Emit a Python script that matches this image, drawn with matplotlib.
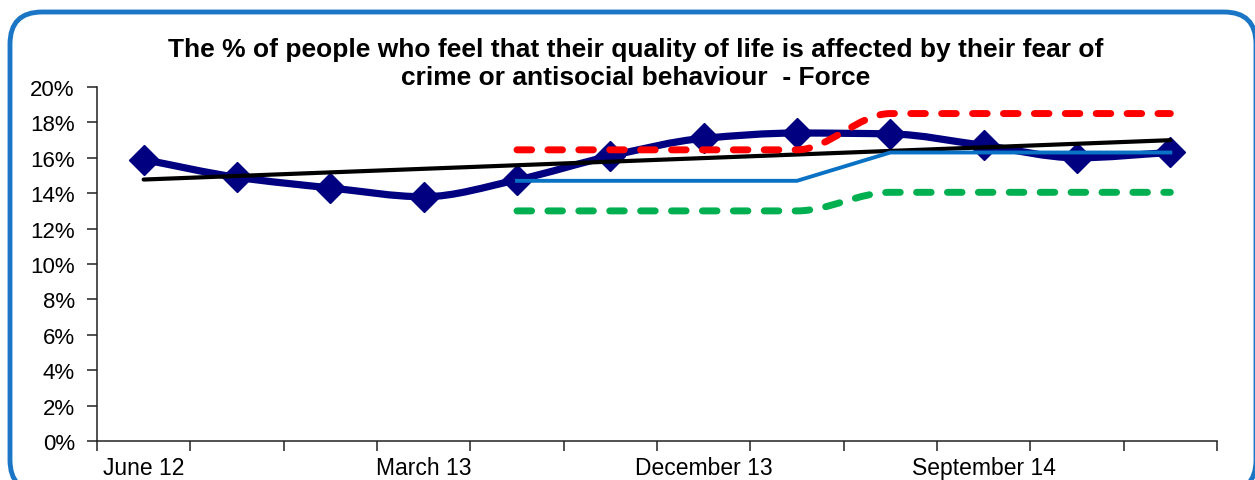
import numpy as np
import matplotlib
matplotlib.use("Agg")
import matplotlib.pyplot as plt
from matplotlib.path import Path
from matplotlib.patches import PathPatch, FancyBboxPatch
from matplotlib.transforms import IdentityTransform
from matplotlib.ticker import FixedLocator, FuncFormatter

plt.rcParams['font.family'] = ['Liberation Sans', 'DejaVu Sans']

# quarterly survey results (%)
quarters = ['June 12', 'September 12', 'December 12', 'March 13', 'June 13', 'September 13',
            'December 13', 'March 14', 'June 14', 'September 14', 'December 14', 'March 15']
force = [15.9, 14.9, 14.3, 13.8, 14.75, 16.1, 17.1, 17.4, 17.35, 16.7, 16.0, 16.3]

# comparison lines start at June 13
band_start = 4
peer_avg = [14.7, 14.7, 14.7, 14.7, 16.3, 16.3, 16.3, 16.3]
upper_lim = [16.45, 16.45, 16.45, 16.45, 18.5, 18.5, 18.5, 18.5]
lower_lim = [13.0, 13.0, 13.0, 13.0, 14.05, 14.05, 14.05, 14.05]

shown_labels = ['June 12', 'March 13', 'December 13', 'September 14']

title = ("The % of people who feel that their quality of life is affected by their fear of\n"
         "crime or antisocial behaviour  - Force")


def smooth_path(xs, ys):
    # monotone cubic (Fritsch-Carlson) through the points, as bezier segments
    x = np.asarray(xs, float)
    y = np.asarray(ys, float)
    h = np.diff(x)
    s = np.diff(y) / h
    d = np.zeros_like(y)
    d[0], d[-1] = s[0], s[-1]
    for i in range(1, len(y) - 1):
        if s[i - 1] * s[i] > 0:
            d[i] = 2.0 / (1.0 / s[i - 1] + 1.0 / s[i])
    verts = [(x[0], y[0])]
    codes = [Path.MOVETO]
    for i in range(len(x) - 1):
        verts += [(x[i] + h[i] / 3, y[i] + d[i] * h[i] / 3),
                  (x[i + 1] - h[i] / 3, y[i + 1] - d[i + 1] * h[i] / 3),
                  (x[i + 1], y[i + 1])]
        codes += [Path.CURVE4] * 3
    return Path(verts, codes)


fig = plt.figure(figsize=(12.55, 4.81), dpi=100)
ax = fig.add_axes([97 / 1255, 39 / 481, 1120 / 1255, 354 / 481])

x_all = np.arange(len(quarters)) + 0.5
x_band = x_all[band_start:]

# main series, smoothed
ax.add_patch(PathPatch(smooth_path(x_all, force), fill=False, edgecolor='#000080',
                       linewidth=5.2, capstyle='round', joinstyle='round', zorder=2))
ax.plot(x_all, force, linestyle='none', marker='D', markersize=15,
        color='#000080', zorder=3)

# linear trend of the main series
k, b = np.polyfit(np.arange(len(force)), force, 1)
trend = k * np.arange(len(force)) + b
ax.plot([x_all[0], x_all[-1]], [trend[0], trend[-1]], color='black', linewidth=3,
        solid_capstyle='round', zorder=4)

ax.plot(x_band, peer_avg, color='#0A72C4', linewidth=2.8, zorder=5)

dash = (0, (2.1, 2.35))
ax.add_patch(PathPatch(smooth_path(x_band, upper_lim), fill=False, edgecolor='#FF0000',
                       linewidth=5, linestyle=dash, capstyle='round', zorder=6))
ax.add_patch(PathPatch(smooth_path(x_band, lower_lim), fill=False, edgecolor='#00B050',
                       linewidth=5, linestyle=dash, capstyle='round', zorder=6))

ax.set_xlim(0, len(quarters))
ax.set_ylim(0, 20)

ax.spines['top'].set_visible(False)
ax.spines['right'].set_visible(False)
for s in ('left', 'bottom'):
    ax.spines[s].set_color('#222222')
    ax.spines[s].set_linewidth(1.1)

ax.set_yticks(np.arange(0, 21, 2))
ax.yaxis.set_major_formatter(FuncFormatter(lambda v, pos: f"{int(v)}%"))
ax.tick_params(axis='y', direction='out', length=7, width=1.1, color='#222222',
               labelsize=16, pad=9)

ax.xaxis.set_major_locator(FixedLocator(np.arange(0, len(quarters) + 1)))
ax.xaxis.set_major_formatter(FuncFormatter(lambda v, pos: ''))
label_pos = [quarters.index(q) + 0.5 for q in shown_labels]
ax.xaxis.set_minor_locator(FixedLocator(label_pos))
ax.xaxis.set_minor_formatter(FuncFormatter(lambda v, pos: quarters[int(v)]))
ax.tick_params(axis='x', which='major', direction='out', length=7, width=1.1,
               color='#222222')
ax.tick_params(axis='x', which='minor', length=0, labelsize=16.5, pad=11)

fig.text(636 / 1255, (481 - 64) / 481, title, ha='center', va='center',
         multialignment='center', fontsize=19, fontweight='bold', linespacing=1.22)

# rounded border round the whole chart
frame = FancyBboxPatch((10, -12), 1246, 480, boxstyle='round,pad=0,rounding_size=32',
                       fill=False, edgecolor='#1C76C6', linewidth=3.5,
                       transform=IdentityTransform())
fig.add_artist(frame)

fig.savefig('out.png', dpi=100)
